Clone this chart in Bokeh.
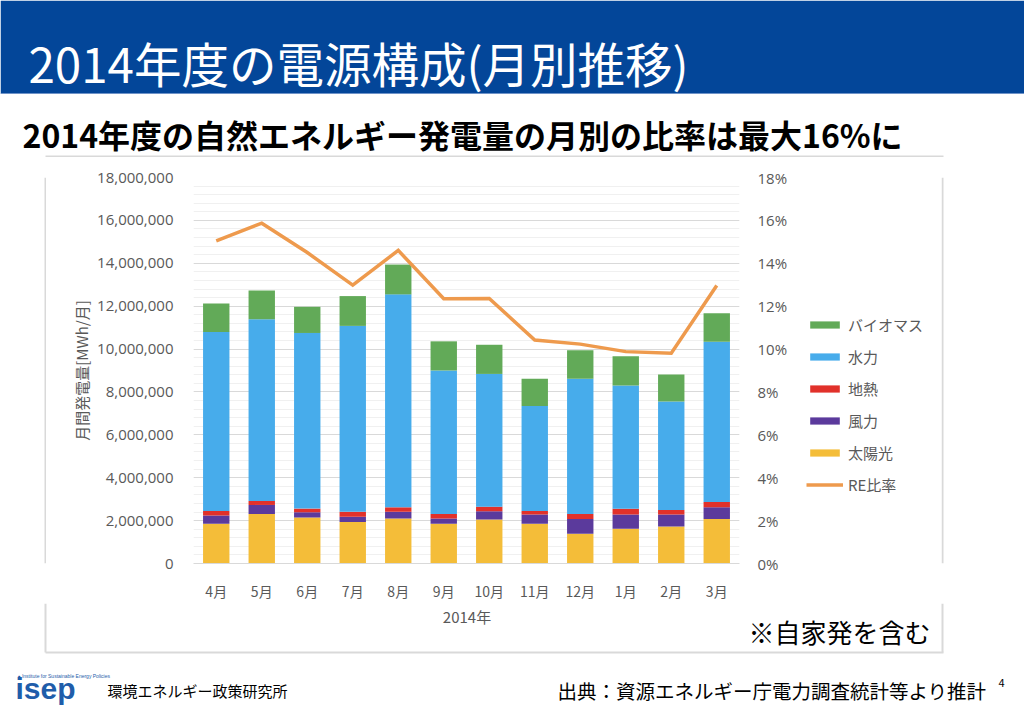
from bokeh.plotting import figure
from bokeh.layouts import column, row
from bokeh.models import (Legend, LegendItem, LinearAxis, Range1d, FactorRange,
                          SingleIntervalTicker, NumeralTickFormatter, ColumnDataSource)
from bokeh.core.properties import value
from bokeh.embed import file_html
from bokeh.resources import INLINE

# ---------------- data ----------------
months = ["4月", "5月", "6月", "7月", "8月", "9月", "10月", "11月", "12月", "1月", "2月", "3月"]
solar = [1850000, 2310000, 2140000, 1930000, 2100000, 1850000, 2050000, 1850000, 1390000, 1620000, 1730000, 2070000]
wind = [390000, 420000, 250000, 250000, 310000, 250000, 390000, 430000, 690000, 660000, 550000, 550000]
geo = [210000, 190000, 170000, 230000, 210000, 210000, 210000, 170000, 230000, 270000, 220000, 250000]
hydro = [8340000, 8470000, 8190000, 8670000, 9930000, 6690000, 6190000, 4900000, 6300000, 5750000, 5050000, 7470000]
bio = [1340000, 1340000, 1220000, 1390000, 1390000, 1360000, 1360000, 1260000, 1340000, 1360000, 1260000, 1330000]
re_ratio = [0.1505, 0.1587, 0.145, 0.1298, 0.146, 0.1235, 0.1236, 0.1042, 0.1023, 0.0988, 0.0981, 0.1296]

series_keys = ["solar", "wind", "geo", "hydro", "bio"]
series_names = ["太陽光", "風力", "地熱", "水力", "バイオマス"]
series_colors = ["#F4BD39", "#5B3A9C", "#E1312A", "#47ACEB", "#62AA58"]
ratio_name = "RE比率"
line_color = "#EE9A4D"
header_blue = "#034699"
box_color = "#D9D9D9"

title_text = "2014年度の電源構成(月別推移)"
subtitle_text = "2014年度の自然エネルギー発電量の月別の比率は最大16%に"
xaxis_title = "2014年"
yaxis_title = "月間発電量[MWh/月]"
note_text = "※自家発を含む"
source_text = "出典：資源エネルギー庁電力調査統計等より推計"
org_text = "環境エネルギー政策研究所"

JP = "Noto Sans CJK JP"
GRAY = "#595959"
W = 1024
TOP_H = 157      # header strip height
MID_H = 446      # chart row height (157 .. 603)
BOT_H = 708 - TOP_H - MID_H


def blank(width, height, x0, x1, y0, y1):
    f = figure(width=width, height=height, x_range=Range1d(x0, x1), y_range=Range1d(y0, y1),
               output_backend="svg", toolbar_location=None, min_border=0,
               x_axis_location=None, y_axis_location=None)
    f.grid.visible = False
    f.outline_line_color = None
    f.background_fill_color = "white"
    f.border_fill_color = "white"
    return f


def txt(f, x, y, t, size, color="black", font=JP, style="normal", align="left", baseline="middle"):
    f.text(x=[x], y=[y], text=[t], text_font=value(font), text_font_size=size,
           text_color=color, text_font_style=style, text_align=align, text_baseline=baseline)


source = ColumnDataSource(dict(month=months, solar=solar, wind=wind, geo=geo, hydro=hydro, bio=bio, ratio=re_ratio))

# ---------------- top strip: header + subtitle ----------------
top = blank(W, TOP_H, 0, W, TOP_H, 0)
top.quad(left=[0], right=[W], top=[0], bottom=[93], fill_color=header_blue, line_color=None)
top.segment(x0=[0], x1=[W], y0=[93], y1=[93], line_color="#6F93C8", line_width=1)
txt(top, 28, 62, title_text, "47.5px", color="white")
txt(top, 22, 133, subtitle_text, "32px", style="bold")
top.segment(x0=[45], x1=[943], y0=[156], y1=[156], line_color=box_color, line_width=2)

# ---------------- chart ----------------
CH_X0 = 46
CH_W = 790 - CH_X0
FL, FR, FT, FB = 193, 740, 177, 566   # frame on page
p = figure(width=CH_W, height=MID_H, x_range=FactorRange(factors=months), y_range=Range1d(0, 18000000),
           output_backend="svg", toolbar_location=None,
           min_border_left=FL - CH_X0, min_border_right=790 - FR,
           min_border_top=FT - TOP_H, min_border_bottom=TOP_H + MID_H - FB)
p.outline_line_color = None
p.background_fill_color = "white"
p.border_fill_color = "white"
p.extra_y_ranges = {"pct": Range1d(0, 0.18)}

renderers = p.vbar_stack(series_keys, x="month", width=0.58, source=source,
                         color=series_colors, line_color=None)
line_r = p.line(x="month", y="ratio", source=source, y_range_name="pct",
                line_color=line_color, line_width=3.5, line_join="miter")

p.yaxis.ticker = SingleIntervalTicker(interval=2000000, num_minor_ticks=5)
p.yaxis.formatter = NumeralTickFormatter(format="0,0")
p.yaxis.axis_line_color = None
p.yaxis.major_tick_line_color = None
p.yaxis.minor_tick_line_color = None
p.yaxis.major_label_text_font = "Open Sans"
p.yaxis.major_label_text_font_size = "15px"
p.yaxis.major_label_text_color = GRAY
p.yaxis.major_label_standoff = 14
p.yaxis.axis_label = yaxis_title
p.yaxis.axis_label_text_font = JP
p.yaxis.axis_label_text_font_style = "normal"
p.yaxis.axis_label_text_font_size = "15px"
p.yaxis.axis_label_text_color = GRAY
p.yaxis.axis_label_standoff = 2

raxis = LinearAxis(y_range_name="pct", ticker=SingleIntervalTicker(interval=0.02),
                   formatter=NumeralTickFormatter(format="0%"))
raxis.axis_line_color = None
raxis.major_tick_line_color = None
raxis.minor_tick_line_color = None
raxis.major_label_text_font = "Open Sans"
raxis.major_label_text_font_size = "15px"
raxis.major_label_text_color = GRAY
raxis.major_label_standoff = 12
p.add_layout(raxis, "right")

p.xaxis.axis_line_color = box_color
p.xaxis.major_tick_line_color = None
p.xaxis.minor_tick_line_color = None
p.xaxis.major_label_text_font = JP
p.xaxis.major_label_text_font_size = "14px"
p.xaxis.major_label_text_color = GRAY
p.xaxis.major_label_standoff = 11

p.xgrid.grid_line_color = None
p.ygrid.grid_line_color = box_color
p.ygrid.minor_grid_line_color = "#F0F0F0"

# left border strip
left = blank(CH_X0, MID_H, 0, CH_X0, MID_H, 0)
left.segment(x0=[45], x1=[45], y0=[0], y1=[MID_H], line_color=box_color, line_width=2)

# legend strip (790 .. 941): proxy renderers (hair-thin, out-of-view) carry the legend swatches
LG_W = 941 - 790
lg = figure(width=LG_W, height=MID_H, x_range=FactorRange(factors=months), y_range=Range1d(-2e7, -1e7),
            output_backend="svg", toolbar_location=None, min_border=0,
            x_axis_location=None, y_axis_location=None)
lg.grid.visible = False
lg.outline_line_color = None
lg.background_fill_color = "white"
lg.border_fill_color = "white"
lg_rend = lg.vbar_stack(series_keys, x="month", width=0.001, source=source, color=series_colors, line_color=None)
lg_line = lg.line(x="month", y="ratio", source=source, line_color=line_color, line_width=3.5)
items = [LegendItem(label=series_names[i], renderers=[lg_rend[i]]) for i in [4, 3, 2, 1, 0]]
items.append(LegendItem(label=ratio_name, renderers=[lg_line]))
legend = Legend(items=items, location=(806 - 790, 68), orientation="vertical",
                padding=0, margin=0, spacing=11, glyph_width=37, glyph_height=9, label_height=20,
                label_standoff=5, border_line_color=None, background_fill_alpha=0,
                label_text_font=JP, label_text_font_size="15px", label_text_color=GRAY)
lg.add_layout(legend, "center")

# right border strip (941 .. 1024)
RS_W = W - 941
rs = blank(RS_W, MID_H, 0, RS_W, MID_H, 0)
rs.segment(x0=[1], x1=[1], y0=[0], y1=[MID_H], line_color=box_color, line_width=2)

# ---------------- bottom strip ----------------
Y0 = TOP_H + MID_H
bot = blank(W, BOT_H, 0, W, 708, Y0)
bot.segment(x0=[45, 942, 45], x1=[45, 942, 943], y0=[Y0, Y0, 652], y1=[652, 652, 652],
            line_color=box_color, line_width=2)
txt(bot, (FL + FR) / 2, 616, xaxis_title, "15px", color=GRAY, align="center")
txt(bot, 748, 631, note_text, "26px")
txt(bot, 557, 690, source_text, "19.5px")
txt(bot, 998, 682, "4", "11px")
txt(bot, 107, 690, org_text, "15px")
txt(bot, 15, 688, "isep", "30px", color="#1F5DAA", font="Liberation Sans", style="bold")
txt(bot, 17, 675, "● Institute for Sustainable Energy Policies", "5px", color="#1F5DAA", font="Liberation Sans")

page = column(top, row(left, p, lg, rs, spacing=0), bot, spacing=0)
open("out.html", "w").write(file_html(page, INLINE))
